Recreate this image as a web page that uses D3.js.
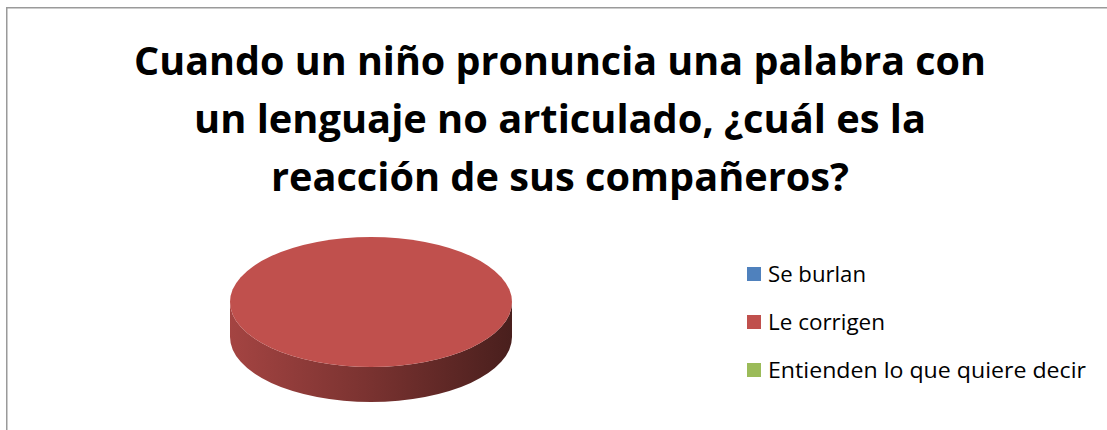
<!DOCTYPE html>
<html>
<head>
<meta charset="utf-8">
<script src="https://cdn.jsdelivr.net/npm/d3@7"></script>
<style>
  html, body { margin: 0; padding: 0; background: #fff; }
  svg { display: block; }
</style>
</head>
<body>
<svg width="1107" height="430"></svg>
<script>
// data
const categories = ['Se burlan', 'Le corrigen', 'Entienden lo que quiere decir'];
const values = [0, 100, 0];
const colors = ['#4f81bd', '#c0504d', '#9bbb59'];
const titleLines = [
  'Cuando un niño pronuncia una palabra con',
  'un lenguaje no articulado, ¿cuál es la',
  'reacción de sus compañeros?'
];
// widths the lines take in the picture
const titleWidths = [852, 732, 578];
const legendWidths = [98, 117, 318];

const svg = d3.select('svg');
const width = +svg.attr('width');
const height = +svg.attr('height');

// chart frame (runs off the right and bottom of the picture)
svg.append('rect')
  .attr('x', 6.75).attr('y', 7.75)
  .attr('width', width + 20).attr('height', height + 20)
  .attr('fill', 'none')
  .attr('stroke', '#9a9a9a')
  .attr('stroke-width', 1.5);

// title
svg.append('g').selectAll('text').data(titleLines)
  .enter().append('text')
    .attr('x', 560)
    .attr('y', (d, i) => 75 + i * 58)
    .attr('text-anchor', 'middle')
    .attr('textLength', (d, i) => titleWidths[i])
    .attr('lengthAdjust', 'spacingAndGlyphs')
    .style('font-family', '"Open Sans", Lato, sans-serif')
    .style('font-weight', 'bold')
    .style('font-size', '39px')
    .style('fill', '#000')
    .text(d => d);

// 3D pie
const cx = 371, cy = 302, rx = 141, ry = 65, depth = 35;
const color = d3.scaleOrdinal().domain(categories).range(colors);
const pie = d3.pie().sort(null).value(d => d.value);
const arcs = pie(categories.map((c, i) => ({ name: c, value: values[i] })))
  .filter(d => d.endAngle - d.startAngle > 1e-9);

const pt = (a, dy = 0) => [cx + rx * Math.sin(a), cy - ry * Math.cos(a) + dy];

const defs = svg.append('defs');
arcs.forEach((d, i) => {
  const base = d3.color(color(d.data.name));
  const g = defs.append('linearGradient')
    .attr('id', 'side' + i)
    .attr('gradientUnits', 'userSpaceOnUse')
    .attr('x1', cx - rx).attr('x2', cx + rx)
    .attr('y1', 0).attr('y2', 0);
  g.append('stop').attr('offset', 0).attr('stop-color', base.darker(0.45));
  g.append('stop').attr('offset', 0.5).attr('stop-color', base.darker(1.3));
  g.append('stop').attr('offset', 1).attr('stop-color', base.darker(2.7));
});

// side walls: only the front half (angles between pi/2 and 3pi/2) shows
const sidePath = d => {
  const a0 = Math.max(d.startAngle, Math.PI / 2);
  const a1 = Math.min(d.endAngle, 3 * Math.PI / 2);
  if (a1 <= a0) return null;
  const p0 = pt(a0), p1 = pt(a1), q1 = pt(a1, depth), q0 = pt(a0, depth);
  return `M${p0}A${rx},${ry} 0 0 1 ${p1}L${q1}A${rx},${ry} 0 0 0 ${q0}Z`;
};

const topPath = d => {
  const span = d.endAngle - d.startAngle;
  if (span >= 2 * Math.PI - 1e-6) {
    const a = pt(0), b = pt(Math.PI);
    return `M${a}A${rx},${ry} 0 1 1 ${b}A${rx},${ry} 0 1 1 ${a}Z`;
  }
  const p0 = pt(d.startAngle), p1 = pt(d.endAngle);
  return `M${cx},${cy}L${p0}A${rx},${ry} 0 ${span > Math.PI ? 1 : 0} 1 ${p1}Z`;
};

const pieG = svg.append('g');
pieG.selectAll('path.side').data(arcs)
  .enter().append('path')
    .attr('class', 'side')
    .attr('d', sidePath)
    .attr('fill', (d, i) => `url(#side${i})`);

pieG.selectAll('path.top').data(arcs)
  .enter().append('path')
    .attr('class', 'top')
    .attr('d', topPath)
    .attr('fill', d => color(d.data.name));

// legend
const yLegend = d3.scalePoint().domain(categories).range([274, 370]);
const legend = svg.append('g').selectAll('g').data(categories)
  .enter().append('g')
    .attr('transform', d => `translate(747,${yLegend(d)})`);

legend.append('rect')
  .attr('x', 0).attr('y', -7)
  .attr('width', 14).attr('height', 14)
  .attr('fill', d => color(d));

legend.append('text')
  .attr('x', 21).attr('y', 8)
  .attr('textLength', (d, i) => legendWidths[i])
  .attr('lengthAdjust', 'spacingAndGlyphs')
  .style('font-family', '"Open Sans", Lato, sans-serif')
  .style('font-size', '22px')
  .style('fill', '#000')
  .text(d => d);
</script>
</body>
</html>
